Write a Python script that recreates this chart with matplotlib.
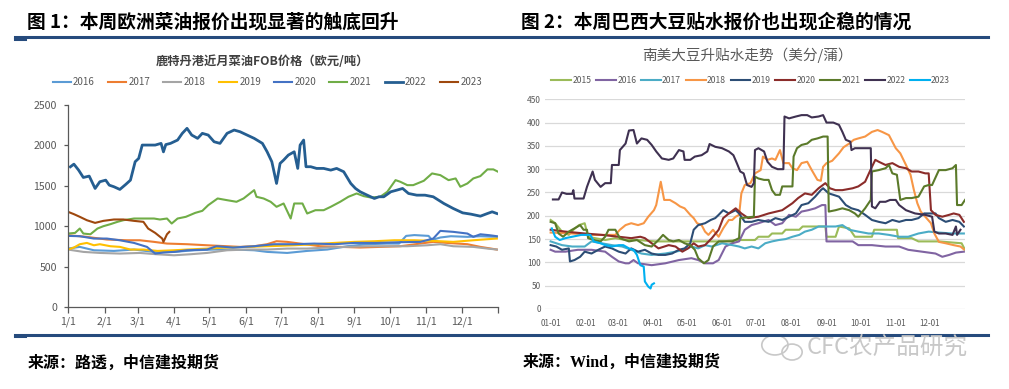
import matplotlib
matplotlib.use('Agg')
import matplotlib.pyplot as plt
from matplotlib.patches import Ellipse
from matplotlib.lines import Line2D

plt.rcParams['font.family'] = ['Noto Sans CJK SC', 'DejaVu Sans']

# 图1: 鹿特丹港近月菜油FOB价格 (一年中的第几天, 欧元/吨)
fob_2016 = [(0,723),(10,744),(22,702),(39,694),(56,711),(73,682),(90,682),(107,702),(124,711),(141,711),(158,702),(169,682),(186,669),(203,694),(220,711),(237,752),(254,777),(271,785),(281,785),(287,880),(294,890),(306,880),(309,830),(316,860),(325,876),(339,868),(350,876),(364,868)]
fob_2017 = [(0,888),(16,868),(33,835),(50,826),(61,826),(73,806),(84,785),(101,777),(118,764),(135,752),(146,744),(158,752),(169,777),(177,814),(186,806),(197,785),(214,752),(231,744),(248,736),(265,744),(282,752),(299,785),(310,806),(322,793),(339,777),(350,744),(359,723),(364,711)]
fob_2018 = [(0,711),(13,682),(27,669),(44,661),(61,669),(75,653),(90,640),(104,653),(118,669),(135,702),(152,711),(169,711),(186,723),(203,723),(220,736),(237,744),(254,752),(271,752),(288,752),(305,764),(316,777),(327,752),(344,744),(356,723),(364,711)]
fob_2019 = [(0,711),(5,736),(10,777),(16,793),(22,764),(27,777),(36,752),(44,744),(53,711),(64,711),(76,694),(90,702),(101,711),(118,723),(135,736),(152,744),(169,752),(192,764),(209,777),(226,793),(243,806),(260,814),(277,826),(294,826),(310,818),(327,806),(344,826),(356,839),(364,847)]
fob_2020 = [(0,880),(10,876),(22,847),(33,847),(44,826),(56,793),(67,744),(74,661),(81,674),(90,682),(101,702),(118,711),(126,752),(140,736),(158,752),(175,777),(192,777),(209,785),(226,777),(243,793),(262,793),(282,802),(299,806),(310,847),(316,942),(327,930),(339,909),(344,868),(350,900),(358,888),(364,876)]
fob_2021 = [(0,909),(6,917),(10,971),(13,909),(19,900),(25,971),(30,1000),(36,1025),(42,1054),(47,1074),(56,1095),(64,1095),(73,1095),(78,1083),(84,1095),(88,1033),(93,1095),(100,1116),(108,1165),(114,1190),(119,1260),(127,1343),(135,1322),(143,1302),(149,1343),(158,1446),(160,1364),(166,1343),(172,1302),(177,1240),(183,1281),(189,1095),(192,1281),(199,1281),(203,1157),(210,1198),(217,1198),(223,1240),(231,1302),(238,1364),(245,1405),(251,1372),(257,1355),(265,1364),(271,1426),(278,1570),(282,1550),(288,1508),(293,1508),(302,1562),(309,1653),(316,1632),(323,1570),(329,1591),(333,1488),(339,1529),(344,1591),(350,1620),(356,1703),(361,1703),(365,1674)]
fob_2022 = [(2,1735),(5,1768),(9,1694),(13,1603),(18,1620),(23,1467),(27,1550),(32,1570),(35,1508),(39,1488),(44,1455),(49,1517),(53,1570),(57,1798),(60,1839),(63,2004),(67,2004),(74,2004),(79,2025),(81,1920),(83,2010),(87,2025),(93,2066),(97,2149),(101,2211),(105,2128),(110,2087),(114,2149),(119,2128),(124,2045),(129,2025),(135,2149),(141,2190),(146,2169),(152,2128),(158,2087),(165,2025),(169,1921),(173,1798),(177,1529),(180,1777),(183,1818),(187,1880),(192,1921),(195,1715),(197,2004),(200,2066),(202,1736),(206,1736),(211,1715),(217,1715),(223,1694),(228,1715),(234,1674),(240,1529),(244,1467),(248,1426),(254,1384),(260,1343),(264,1364),(268,1364),(274,1426),(279,1446),(284,1467),(289,1405),(296,1384),(303,1384),(310,1364),(319,1281),(327,1219),(335,1165),(342,1149),(350,1124),(356,1157),(360,1178),(364,1157)]
fob_2023 = [(0,1178),(5,1149),(10,1116),(16,1074),(23,1041),(30,1066),(39,1083),(47,1083),(56,1066),(64,1054),(68,971),(74,917),(80,847),(81,806),(84,900),(86,930)]

fob_years = ['2016', '2017', '2018', '2019', '2020', '2021', '2022', '2023']
fob_colors = ['#5b9bd5', '#ed7d31', '#a5a5a5', '#ffc000', '#4472c4', '#70ad47', '#255e91', '#9e480e']

# 图2: 南美大豆升贴水 (一年中的第几天, 美分/蒲)
soy_2015 = [(0,191),(4,184),(10,166),(16,159),(20,170),(25,180),(30,184),(33,155),(39,152),(48,148),(57,152),(66,148),(77,148),(92,145),(107,145),(121,145),(136,145),(151,145),(166,148),(180,148),(183,155),(192,155),(195,162),(204,162),(207,170),(219,170),(222,177),(242,177),(243,155),(251,155),(254,177),(263,173),(268,155),(283,155),(285,170),(305,170),(306,152),(318,152),(324,145),(342,145),(362,141),(365,127)]
soy_2016 = [(0,127),(4,123),(13,123),(24,127),(36,127),(48,123),(54,112),(60,102),(66,98),(69,98),(73,105),(77,98),(89,94),(101,98),(113,105),(124,109),(130,105),(136,98),(143,98),(148,105),(154,134),(160,141),(166,145),(171,170),(177,180),(183,184),(192,191),(198,180),(204,184),(210,202),(216,198),(221,209),(227,212),(233,216),(239,223),(242,223),(243,145),(251,145),(266,145),(271,137),(283,137),(295,134),(307,134),(315,127),(327,123),(339,119),(345,112),(351,116),(357,121),(364,123)]
soy_2017 = [(0,145),(10,137),(19,134),(30,134),(36,145),(45,141),(54,137),(63,134),(71,127),(80,119),(89,116),(101,119),(110,123),(118,127),(124,134),(130,130),(136,137),(142,134),(151,141),(160,137),(166,134),(171,130),(177,134),(183,130),(189,141),(195,145),(201,148),(207,150),(213,155),(219,159),(224,166),(230,170),(236,177),(242,177),(251,177),(257,180),(263,170),(271,166),(280,162),(289,162),(298,159),(307,155),(315,155),(324,162),(333,166),(342,164),(354,162),(364,162)]
soy_2018 = [(0,164),(19,162),(36,159),(57,159),(61,170),(66,180),(71,184),(77,180),(82,184),(86,198),(91,212),(93,223),(97,273),(100,234),(105,234),(110,227),(114,220),(118,216),(123,202),(126,195),(129,184),(133,180),(136,166),(139,159),(143,170),(148,155),(152,173),(157,191),(160,191),(163,198),(166,202),(168,248),(171,266),(176,270),(180,291),(185,298),(187,327),(191,320),(195,323),(198,320),(202,341),(205,313),(210,313),(213,302),(217,298),(221,313),(226,316),(230,298),(235,277),(238,275),(240,305),(243,313),(248,318),(254,334),(258,347),(263,355),(267,363),(271,366),(277,370),(283,380),(288,384),(292,380),(298,373),(304,345),(308,334),(313,309),(317,288),(320,255),(323,227),(326,209),(330,198),(335,184),(338,162),(342,144),(348,141),(355,137),(361,134),(364,128)]
soy_2019 = [(0,137),(5,134),(10,127),(16,130),(17,102),(21,105),(26,112),(30,123),(36,119),(42,127),(48,134),(54,130),(60,123),(66,119),(71,130),(77,123),(83,127),(89,119),(95,116),(101,116),(107,119),(113,127),(118,130),(123,141),(126,170),(130,180),(136,184),(141,191),(145,195),(148,202),(152,212),(157,205),(163,212),(166,205),(171,187),(177,187),(183,191),(192,187),(198,195),(204,191),(210,198),(216,205),(221,223),(227,227),(233,241),(238,255),(240,259),(245,248),(249,245),(254,241),(260,223),(265,216),(271,212),(277,202),(283,191),(289,187),(295,184),(301,191),(307,187),(313,191),(318,191),(324,195),(329,205),(339,205),(342,195),(348,187),(354,191),(360,187),(364,177)]
soy_2020 = [(0,170),(13,166),(30,162),(45,159),(60,155),(71,152),(79,155),(83,152),(89,141),(95,130),(104,137),(110,134),(116,123),(121,130),(126,141),(130,134),(136,137),(142,152),(148,170),(152,195),(157,205),(163,216),(168,205),(174,195),(183,198),(192,205),(204,212),(213,227),(218,238),(224,248),(230,245),(236,259),(242,270),(246,259),(251,255),(257,255),(266,259),(271,263),(277,273),(283,305),(286,320),(289,316),(295,309),(301,313),(307,305),(313,302),(318,295),(324,295),(330,291),(333,291),(335,212),(339,202),(345,198),(351,202),(355,205),(360,202),(364,187)]
soy_2021 = [(0,187),(4,184),(7,162),(11,155),(16,166),(21,173),(26,180),(29,170),(32,170),(33,152),(38,148),(44,145),(48,155),(51,170),(57,170),(61,152),(69,145),(76,148),(83,137),(89,134),(95,148),(99,159),(104,148),(108,145),(113,148),(118,141),(123,137),(127,127),(130,109),(135,98),(139,105),(143,134),(148,145),(160,145),(166,152),(167,195),(179,198),(180,284),(183,280),(188,277),(192,277),(195,255),(198,245),(202,245),(204,263),(213,263),(214,327),(217,345),(221,352),(226,355),(230,363),(235,366),(240,370),(244,370),(245,209),(251,212),(257,216),(263,212),(268,205),(271,198),(277,216),(282,234),(283,295),(289,298),(295,302),(298,309),(301,291),(305,288),(308,234),(313,238),(318,238),(324,241),(329,263),(333,266),(336,266),(342,298),(348,298),(354,302),(357,309),(358,223),(362,223),(365,234)]
soy_2022 = [(2,235),(7,235),(10,250),(14,247),(19,247),(20,255),(21,237),(29,237),(32,262),(37,295),(39,277),(44,262),(48,270),(53,270),(54,309),(60,309),(61,341),(66,355),(69,383),(73,384),(76,355),(80,366),(85,363),(89,352),(93,338),(98,323),(104,320),(108,323),(113,341),(117,338),(118,320),(123,320),(127,327),(133,330),(138,338),(140,354),(145,348),(151,345),(157,338),(161,330),(164,313),(167,295),(170,291),(173,266),(177,262),(179,270),(180,341),(183,345),(188,338),(191,316),(195,305),(200,300),(205,300),(206,413),(210,409),(216,413),(221,416),(226,416),(230,411),(236,413),(240,416),(243,400),(249,400),(254,395),(257,380),(260,363),(264,359),(265,341),(268,345),(282,345),(283,220),(286,216),(290,230),(295,230),(299,234),(304,234),(307,223),(313,212),(321,205),(330,202),(336,198),(338,166),(342,162),(348,162),(354,159),(357,177),(358,159),(361,170)]
soy_2023 = [(1,173),(4,155),(8,148),(13,152),(19,155),(27,159),(35,159),(38,145),(44,141),(48,137),(54,134),(60,137),(64,137),(69,130),(73,127),(76,116),(79,94),(82,91),(83,59),(86,48),(88,44),(89,52),(91,55)]

soy_years = ['2015', '2016', '2017', '2018', '2019', '2020', '2021', '2022', '2023']
soy_colors = ['#9bbb59', '#8064a2', '#4bacc6', '#f79646', '#2c4d75', '#8b2c2a', '#5b7a2a', '#3f3151', '#00b0f0']

month_days = [0, 31, 59, 90, 120, 151, 181, 212, 243, 273, 304, 334]
fob_xlabels = ['1/1', '2/1', '3/1', '4/1', '5/1', '6/1', '7/1', '8/1', '9/1', '10/1', '11/1', '12/1']
soy_xlabels = ['01-01', '02-01', '03-01', '04-01', '05-01', '06-01', '07-01', '08-01', '09-01', '10-01', '11-01', '12-01']

fig = plt.figure(figsize=(10.09, 3.89), dpi=100)

# 标题和分隔线
fig.text(0.027, 0.943, '图 1：本周欧洲菜油报价出现显著的触底回升', fontsize=13.5, fontweight='bold', va='center')
fig.text(0.516, 0.943, '图 2：本周巴西大豆贴水报价也出现企稳的情况', fontsize=13.5, fontweight='bold', va='center')
for y in [0.906, 0.140]:
    fig.add_artist(Line2D([0.015, 0.979], [y, y], color='#264b7d', lw=2.2))
    fig.add_artist(Line2D([0.015, 0.025], [y - 0.005, y - 0.005], color='#264b7d', lw=2.2))

# ---- 左图 ----
ax1 = fig.add_axes([0.0674, 0.2108, 0.4262, 0.5193])
fob_series = [fob_2016, fob_2017, fob_2018, fob_2019, fob_2020, fob_2021, fob_2022, fob_2023]
for s, name, c in zip(fob_series, fob_years, fob_colors):
    x, y = zip(*s)
    lw = 2.0 if name == '2022' else 1.5
    ax1.plot(x, y, color=c, lw=lw, label=name)
ax1.set_xlim(0, 365)
ax1.set_ylim(0, 2500)
ax1.set_yticks(range(0, 2501, 500))
ax1.set_xticks(month_days + [365])
ax1.set_xticklabels(fob_xlabels + [''])
for side in ['top', 'right']:
    ax1.spines[side].set_visible(False)
for side in ['left', 'bottom']:
    ax1.spines[side].set_color('#595959')
    ax1.spines[side].set_linewidth(0.9)
ax1.tick_params(axis='x', length=4, width=0.9, color='#595959', pad=3, labelsize=7.6, labelcolor='#595959')
ax1.tick_params(axis='y', length=3, width=0.9, color='#595959', pad=5, labelsize=7.6, labelcolor='#595959')
fig.text(0.26, 0.843, '鹿特丹港近月菜油FOB价格（欧元/吨）', fontsize=8.8, fontweight='bold',
         color='#404040', ha='center', va='center')
ax1.legend(loc='center', bbox_to_anchor=(0.265, 0.789), bbox_transform=fig.transFigure, ncol=8,
           frameon=False, fontsize=7, labelcolor='#595959', handlelength=1.85, handletextpad=0.25,
           columnspacing=1.35, borderpad=0)

# ---- 右图 ----
ax2 = fig.add_axes([0.5401, 0.2057, 0.4163, 0.5391])
soy_series = [soy_2015, soy_2016, soy_2017, soy_2018, soy_2019, soy_2020, soy_2021, soy_2022, soy_2023]
for s, name, c in zip(soy_series, soy_years, soy_colors):
    x, y = zip(*s)
    ax2.plot(x, y, color=c, lw=1.5, label=name)
ax2.set_xlim(-5, 365)
ax2.set_ylim(0, 450)
ax2.set_yticks(range(0, 451, 50))
ax2.set_xticks(month_days)
ax2.set_xticklabels(soy_xlabels)
ax2.grid(axis='y', color='#d9d9d9', lw=0.9)
ax2.set_axisbelow(True)
for side in ax2.spines:
    ax2.spines[side].set_visible(False)
ax2.tick_params(axis='x', length=0, pad=7, labelsize=5.8, labelcolor='#595959')
ax2.tick_params(axis='y', length=0, pad=3, labelsize=6, labelcolor='#595959')
fig.text(0.741, 0.859, '南美大豆升贴水走势（美分/蒲）', fontsize=10.5, color='#595959', ha='center', va='center')
ax2.legend(loc='center', bbox_to_anchor=(0.744, 0.794), bbox_transform=fig.transFigure, ncol=9,
           frameon=False, fontsize=6.2, labelcolor='#595959', handlelength=2.3, handletextpad=0.15,
           columnspacing=0.55, borderpad=0)

# 来源
fig.text(0.027, 0.068, '来源：路透，中信建投期货', fontsize=11.5, fontweight='bold', va='center')
fig.text(0.518, 0.068, '来源：Wind，中信建投期货', fontsize=11.5, fontweight='bold', va='center',
         family=['Liberation Serif', 'Noto Sans CJK SC'])

# 水印
fig.add_artist(Ellipse((0.768, 0.113), 0.026, 0.051, transform=fig.transFigure, fill=False, ec='#c8c8c8', lw=1.2))
fig.add_artist(Ellipse((0.785, 0.095), 0.020, 0.041, transform=fig.transFigure, fill=False, ec='#c8c8c8', lw=1.2))
fig.text(0.799, 0.108, 'CFC农产品研究', fontsize=17, color='#c8c8c8', va='center')

fig.savefig('out.png', dpi=100)
